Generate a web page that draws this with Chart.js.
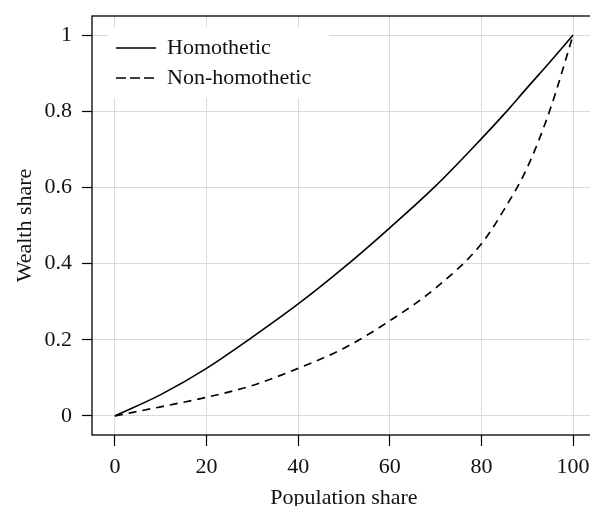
<!DOCTYPE html>
<html>
<head>
<meta charset="utf-8">
<script src="https://cdn.jsdelivr.net/npm/chart.js@4"></script>
<style>
html, body { margin: 0; padding: 0; overflow: hidden; background: #fff; }
canvas { display: block; }
</style>
</head>
<body>
<canvas id="lorenz" width="600" height="512"></canvas>
<script>
// Lorenz curves
const populationShare = [0, 10, 20, 30, 40, 50, 60, 70, 80, 85, 90, 95, 100];
const homothetic = [0, 0.056, 0.125, 0.207, 0.294, 0.39, 0.494, 0.604, 0.728, 0.793, 0.862, 0.93, 1];
const nonHomothetic = [0, 0.024, 0.049, 0.08, 0.125, 0.178, 0.25, 0.336, 0.452, 0.543, 0.652, 0.805, 1];

const xTicks = [0, 20, 40, 60, 80, 100];
const yTicks = [0, 0.2, 0.4, 0.6, 0.8, 1];
const seriesNames = ["Homothetic", "Non-homothetic"];

Chart.defaults.font.family = '"Liberation Serif", "Times New Roman", serif';
Chart.defaults.font.size = 22;
Chart.defaults.color = "#111";

const toPoints = ys => populationShare.map((x, i) => ({ x: x, y: ys[i] }));

// box round the plot + white legend background
const frame = {
	id: "frame",
	afterLayout(chart) {
		chart.legend.left = chart.chartArea.left + 16;
		chart.legend.top = chart.chartArea.top + 13;
	},
	afterDatasetsDraw(chart) {
		const { ctx, chartArea: a, legend } = chart;
		ctx.save();
		ctx.fillStyle = "#fff";
		ctx.fillRect(legend.left, legend.top - 2, legend.width + 8, 71);
		ctx.restore();
		legend.draw();
		ctx.save();
		ctx.strokeStyle = "#000";
		ctx.lineWidth = 1.3;
		ctx.strokeRect(a.left, a.top, a.right - a.left, a.bottom - a.top);
		ctx.restore();
	},
};

const gridStyle = { color: "#d9d9d9", lineWidth: 1, tickColor: "#000", tickLength: 10, tickWidth: 1.2 };

new Chart(document.getElementById("lorenz"), {
	type: "line",
	data: {
		datasets: [
			{
				label: seriesNames[0],
				data: toPoints(homothetic),
				borderColor: "#000",
				backgroundColor: "#000",
				borderWidth: 1.6,
				pointRadius: 0,
				cubicInterpolationMode: "monotone",
			},
			{
				label: seriesNames[1],
				data: toPoints(nonHomothetic),
				borderColor: "#000",
				backgroundColor: "#000",
				borderWidth: 1.7,
				borderDash: [8, 6],
				pointRadius: 0,
				cubicInterpolationMode: "monotone",
			},
		],
	},
	options: {
		responsive: false,
		animation: false,
		layout: { padding: { top: 16, right: 4, left: 0, bottom: 0 } },
		plugins: {
			legend: {
				position: "chartArea",
				align: "start",
				labels: { boxWidth: 40, boxHeight: 0, padding: 8, color: "#111" },
			},
			tooltip: { enabled: false },
		},
		scales: {
			x: {
				type: "linear",
				min: -5,
				max: 105,
				afterBuildTicks: axis => {
					axis.ticks = xTicks.map(v => ({ value: v }));
				},
				afterFit: axis => {
					axis.height = 77;
					axis.paddingLeft = 0;
					axis.paddingRight = 0;
				},
				grid: { ...gridStyle, tickLength: 11 },
				border: { display: false },
				ticks: { padding: 8, maxRotation: 0, autoSkip: false, callback: v => String(v) },
				title: { display: true, text: "Population share", padding: { top: 0, bottom: 1 } },
			},
			y: {
				type: "linear",
				min: -0.05,
				max: 1.05,
				afterBuildTicks: axis => {
					axis.ticks = yTicks.map(v => ({ value: v }));
				},
				afterFit: axis => {
					axis.width = 92;
					axis.paddingTop = 0;
					axis.paddingBottom = 0;
				},
				grid: gridStyle,
				border: { display: false },
				ticks: { padding: 10, autoSkip: false, callback: v => String(v) },
				title: { display: true, text: "Wealth share", padding: { top: 12, bottom: 0 } },
			},
		},
	},
	plugins: [frame],
});
</script>
</body>
</html>
